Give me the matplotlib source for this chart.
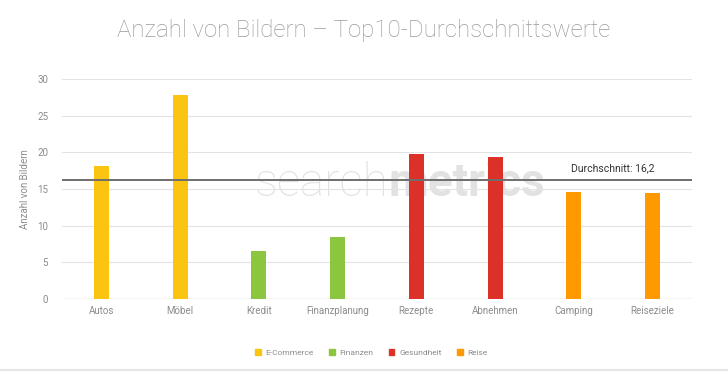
import matplotlib
matplotlib.use("Agg")
import matplotlib.pyplot as plt
from matplotlib.patches import Patch

plt.rcParams['font.family'] = ['Roboto', 'DejaVu Sans']

categories = ["Autos", "Möbel", "Kredit", "Finanzplanung", "Rezepte",
              "Abnehmen", "Camping", "Reiseziele"]
values = [18.1, 27.8, 6.5, 8.5, 19.8, 19.4, 14.6, 14.5]
groups = ["E-Commerce", "E-Commerce", "Finanzen", "Finanzen", "Gesundheit",
          "Gesundheit", "Reise", "Reise"]
group_names = ["E-Commerce", "Finanzen", "Gesundheit", "Reise"]
group_colors = {"E-Commerce": "#fbc410", "Finanzen": "#8cc63e",
                "Gesundheit": "#dc3129", "Reise": "#fe9a00"}
average = 16.2

fig = plt.figure(figsize=(7.28, 3.74), dpi=100)
ax = fig.add_axes([0.0852, 0.2005, 0.8653, 0.5883])

# watermark behind the bars
wm1 = ax.text(0.35, 0.51, "search", fontsize=33, color="#e2e2e2",
              weight="light", va="center", ha="left", zorder=1,
              transform=fig.transFigure)
fig.canvas.draw()
bb = wm1.get_window_extent().transformed(fig.transFigure.inverted())
ax.text(bb.x1, 0.51, "metrics", fontsize=33, color="#e2e2e2",
        weight="bold", va="center", ha="left", zorder=1,
        transform=fig.transFigure)

x = list(range(len(categories)))
ax.bar(x, values, width=0.19, color=[group_colors[g] for g in groups], zorder=3)
ax.axhline(average, color="#6e6e6e", lw=1.4, zorder=4)
ax.text(6.5, average + 0.9, f"Durchschnitt: {average:.1f}".replace(".", ","),
        fontsize=7.5, color="#333333", ha="center", va="bottom", zorder=5)

ax.set_xlim(-0.5, 7.5)
ax.set_ylim(0, 30)
ax.set_yticks(range(0, 31, 5))
ax.set_xticks(x)
ax.set_xticklabels(categories)
ax.tick_params(axis="both", length=0, labelsize=7, colors="#8c8c8c")
ax.tick_params(axis="y", pad=10)
ax.tick_params(axis="x", pad=5)
ax.grid(axis="y", color="#e3e3e3", lw=0.8, zorder=0)
for s in ax.spines.values():
    s.set_visible(False)
ax.axhline(0, color="#cccccc", lw=0.9, zorder=2)
ax.set_ylabel("Anzahl von Bildern", fontsize=7, color="#8c8c8c", labelpad=5)

fig.suptitle("Anzahl von Bildern – Top10-Durchschnittswerte", y=0.95,
             fontsize=17.3, color="#9a9a9a", weight="light")

handles = [Patch(color=group_colors[g]) for g in group_names]
fig.legend(handles, group_names, loc="center", bbox_to_anchor=(0.51, 0.057),
           ncol=4, frameon=False, fontsize=6, handlelength=0.7,
           handleheight=0.7, columnspacing=1.8, handletextpad=0.6,
           labelcolor="#8c8c8c")

fig.add_artist(plt.Line2D([0, 1], [0.01, 0.01], color="#e5e5e5", lw=1.5))

fig.savefig("out.png", dpi=100)
